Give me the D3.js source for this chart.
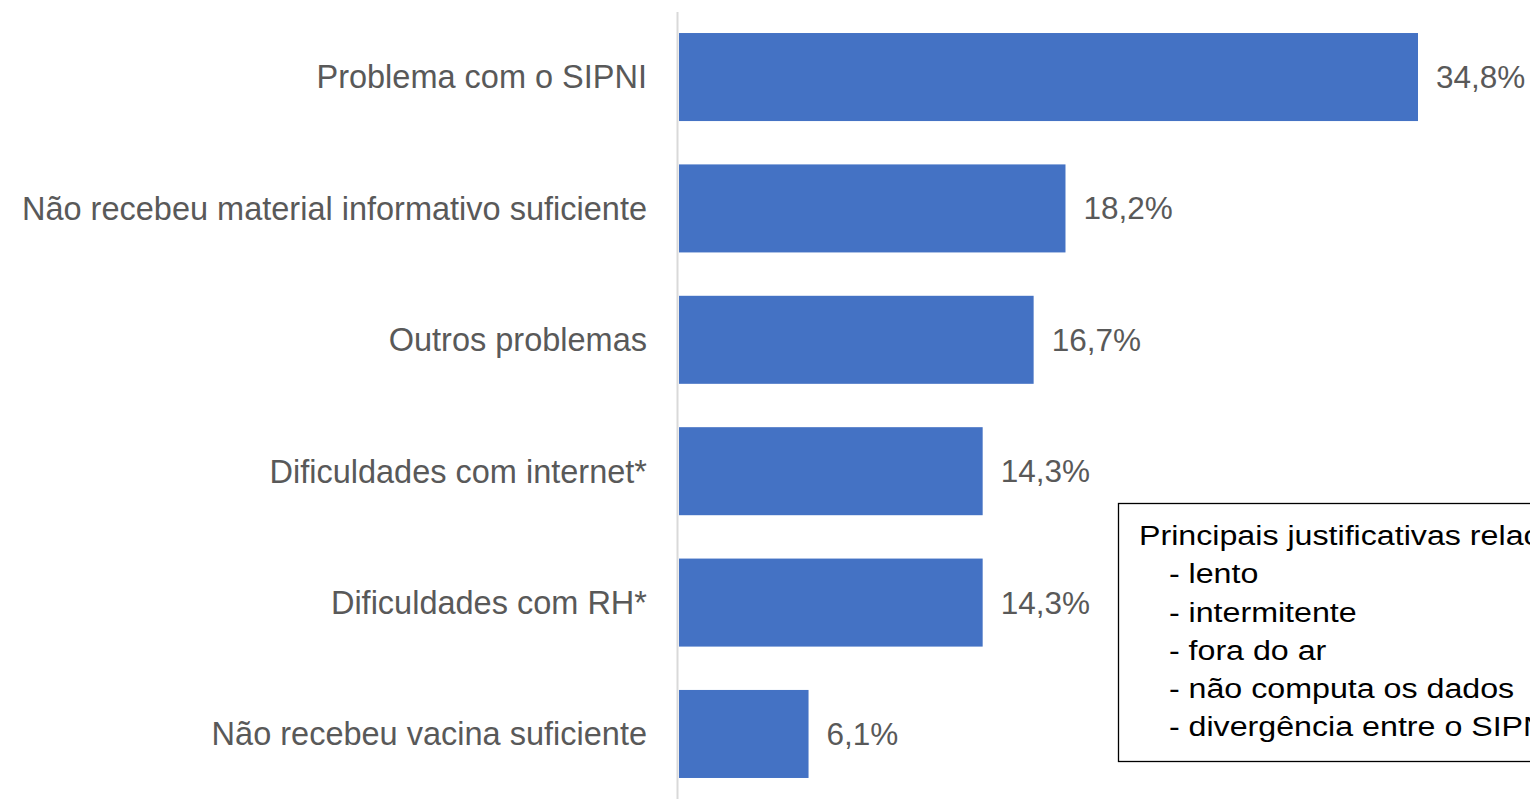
<!DOCTYPE html>
<html>
<head>
<meta charset="utf-8">
<script src="https://cdn.jsdelivr.net/npm/d3@7"></script>
<style>
  html, body { margin: 0; padding: 0; background: #fff; overflow: hidden; }
  svg { display: block; }
</style>
</head>
<body>
<svg id="chart" width="1530" height="799"></svg>
<script>
// --- data ---
const categories = [
    "Problema com o SIPNI",
    "Não recebeu material informativo suficiente",
    "Outros problemas",
    "Dificuldades com internet*",
    "Dificuldades com RH*",
    "Não recebeu vacina suficiente"
];
const values = [34.8, 18.2, 16.7, 14.3, 14.3, 6.1];
const noteTitle = "Principais justificativas relacionadas ao SIPNI:";
const noteItems = ["- lento", "- intermitente", "- fora do ar", "- não computa os dados", "- divergência entre o SIPNI e o sistema local"];

const width = 1530, height = 799;
const font = "Liberation Sans, Arial, sans-serif";
const svg = d3.select("#chart");

// --- scales ---
const x0 = 679;
const x = d3.scaleLinear().domain([0, 34.8]).range([x0, 1418]);
const y = d3.scaleBand()
    .domain(categories)
    .range([12, 799])
    .paddingInner(0.33)
    .paddingOuter(0.16);

// axis line
svg.append("line")
    .attr("x1", 677.5).attr("x2", 677.5)
    .attr("y1", 12).attr("y2", height)
    .attr("stroke", "#d9d9d9")
    .attr("stroke-width", 2);

// bars
svg.selectAll("rect.bar")
    .data(values)
    .join("rect")
    .attr("class", "bar")
    .attr("x", x0)
    .attr("y", (d, i) => y(categories[i]))
    .attr("width", d => x(d) - x0)
    .attr("height", y.bandwidth())
    .attr("fill", "#4472c4");

// category labels
svg.selectAll("text.cat")
    .data(categories)
    .join("text")
    .attr("class", "cat")
    .attr("x", 647)
    .attr("y", d => y(d) + y.bandwidth() / 2)
    .attr("dy", "0.35em")
    .attr("text-anchor", "end")
    .attr("fill", "#595959")
    .attr("font-family", font)
    .attr("font-size", "32.5px")
    .text(d => d);

// value labels
svg.selectAll("text.val")
    .data(values)
    .join("text")
    .attr("class", "val")
    .attr("x", d => x(d) + 18)
    .attr("y", (d, i) => y(categories[i]) + y.bandwidth() / 2)
    .attr("dy", "0.35em")
    .attr("fill", "#595959")
    .attr("font-family", font)
    .attr("font-size", "31.5px")
    .text(d => d3.format(".1f")(d).replace(".", ",") + "%");

// note box
const note = svg.append("g");
note.append("rect")
    .attr("x", 1118.5).attr("y", 503.5)
    .attr("width", 500).attr("height", 258)
    .attr("fill", "#fff")
    .attr("stroke", "#000")
    .attr("stroke-width", 1.3);

// text in the box is a little wider than regular Arial
const lineH = 38.3;
const noteText = note.append("g")
    .attr("transform", "translate(1139,0) scale(1.15,1)");

noteText.append("text")
    .attr("x", 0)
    .attr("y", 545)
    .attr("font-family", font)
    .attr("font-size", "28px")
    .attr("fill", "#000")
    .text(noteTitle);

noteText.selectAll("text.item")
    .data(noteItems)
    .join("text")
    .attr("class", "item")
    .attr("x", 26)
    .attr("y", (d, i) => 545 + (i + 1) * lineH)
    .attr("font-family", font)
    .attr("font-size", "28px")
    .attr("fill", "#000")
    .text(d => d);
</script>
</body>
</html>
